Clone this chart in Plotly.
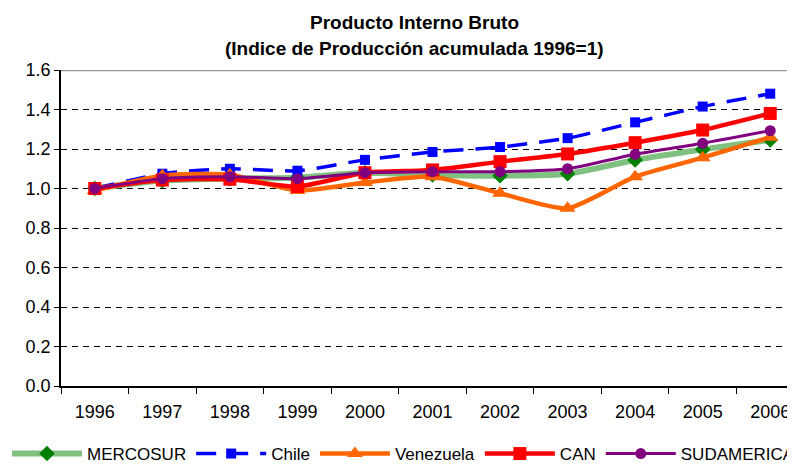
import plotly.graph_objects as go

years = ["1996", "1997", "1998", "1999", "2000", "2001", "2002", "2003", "2004", "2005", "2006"]
mercosur = [1.00, 1.04, 1.05, 1.055, 1.08, 1.068, 1.065, 1.075, 1.144, 1.198, 1.246]
chile = [1.00, 1.075, 1.10, 1.09, 1.145, 1.185, 1.21, 1.255, 1.335, 1.415, 1.48]
venezuela = [0.99, 1.065, 1.07, 0.99, 1.03, 1.06, 0.976, 0.90, 1.06, 1.156, 1.26]
can = [1.00, 1.043, 1.047, 1.01, 1.08, 1.094, 1.136, 1.175, 1.232, 1.296, 1.38]
sudamerica = [1.00, 1.05, 1.06, 1.05, 1.08, 1.085, 1.085, 1.10, 1.173, 1.229, 1.293]

title_line1 = "Producto Interno Bruto"
title_line2 = "(Indice de Producción acumulada 1996=1)"

FONT = "Liberation Sans, Arial, sans-serif"

# The page adds an 8px body margin; the chart (like the reference) runs past the right edge.
W, H = 860, 456
L, T, B, R = 53, 62, 78, 64
PH = H - T - B
PW = W - L - R

fig = go.Figure()
fig.add_trace(go.Scatter(x=years, y=mercosur, name="MERCOSUR", mode="lines+markers",
                         line=dict(color="#80C080", width=6, shape="spline", smoothing=0.6),
                         marker=dict(symbol="diamond", size=12, color="#008000")))
fig.add_trace(go.Scatter(x=years, y=chile, name="Chile", mode="lines+markers",
                         line=dict(color="#0000FF", width=3.5, dash="20px,12px", shape="spline", smoothing=0.6),
                         marker=dict(symbol="square", size=10, color="#0000FF")))
fig.add_trace(go.Scatter(x=years, y=venezuela, name="Venezuela", mode="lines+markers",
                         line=dict(color="#FF6600", width=4.5, shape="spline", smoothing=0.6),
                         marker=dict(symbol="triangle-up", size=14, color="#FF6600")))
fig.add_trace(go.Scatter(x=years, y=can, name="CAN", mode="lines+markers",
                         line=dict(color="#FF0000", width=4.5, shape="spline", smoothing=0.6),
                         marker=dict(symbol="square", size=13, color="#FF0000")))
fig.add_trace(go.Scatter(x=years, y=sudamerica, name="SUDAMERICA", mode="lines+markers",
                         line=dict(color="#800080", width=3, shape="spline", smoothing=0.6),
                         marker=dict(symbol="circle", size=11, color="#800080")))

fig.add_shape(type="line", xref="x domain", yref="y", x0=0, x1=1, y0=1.6, y1=1.6,
              line=dict(color="#999999", width=2.5))

fig.add_annotation(text="<b>" + title_line1 + "</b>", xref="paper", yref="paper",
                   x=(406 - L) / PW, y=(T + PH - 14) / PH, xanchor="center", yanchor="middle",
                   showarrow=False, font=dict(family=FONT, size=19, color="black"))
fig.add_annotation(text="<b>" + title_line2 + "</b>", xref="paper", yref="paper",
                   x=(406 - L) / PW, y=(T + PH - 40) / PH, xanchor="center", yanchor="middle",
                   showarrow=False, font=dict(family=FONT, size=19, color="black"))

fig.update_layout(
    width=W, height=H,
    margin=dict(l=L, r=R, t=T, b=B, autoexpand=False),
    paper_bgcolor="white", plot_bgcolor="white",
    font=dict(family=FONT, size=18, color="black"),
    showlegend=True,
    legend=dict(orientation="h", x=-54 / PW, xanchor="left", y=-(446 - T - PH) / PH, yanchor="middle",
                font=dict(family=FONT, size=17, color="black"),
                itemwidth=70, tracegroupgap=0, bgcolor="rgba(0,0,0,0)"),
)
fig.update_xaxes(type="category", range=[-0.5, 10.5], tickson="boundaries",
                 ticks="outside", ticklen=6, tickcolor="black", showline=True,
                 linecolor="black", linewidth=1.5, showgrid=False, automargin=False,
                 ticklabelstandoff=9, tickfont=dict(size=18))
fig.update_yaxes(range=[0, 1.6], dtick=0.2, tickformat=".1f", ticks="outside",
                 ticklen=5, tickcolor="black", showline=True, linecolor="black",
                 linewidth=1.5, showgrid=True, gridcolor="black", gridwidth=1,
                 griddash="6px,5px", zeroline=False, automargin=False,
                 tickfont=dict(size=18))

fig.write_html("out.html", post_script="document.body.style.overflow='hidden';")
